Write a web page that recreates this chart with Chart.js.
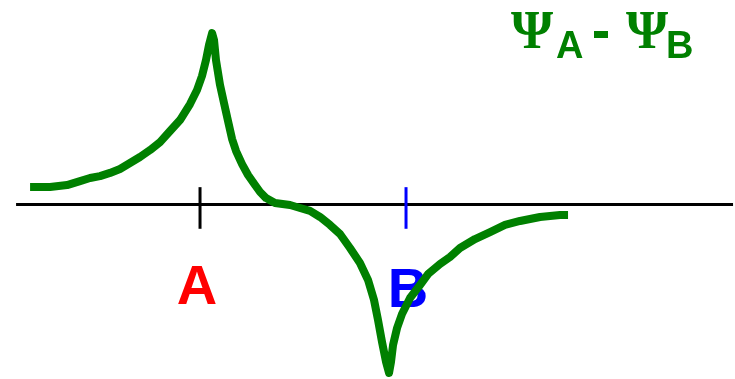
<!DOCTYPE html>
<html>
<head>
<meta charset="utf-8">
<script src="https://cdn.jsdelivr.net/npm/chart.js@4/dist/chart.umd.min.js"></script>
<style>
  html, body { margin: 0; padding: 0; background: #fff; }
  canvas { display: block; }
</style>
</head>
<body>
<canvas id="chart-area" width="735" height="379"></canvas>
<script>
// position along the A-B axis (A at -1, B at +1)
var xPos = [-2.650, -2.456, -2.291, -2.165, -2.068, -1.971, -1.874, -1.777, -1.680, -1.583,
            -1.485, -1.388, -1.291, -1.194, -1.097, -1.029, -0.981, -0.942, -0.913, -0.883,
            -0.864, -0.845, -0.806, -0.767, -0.728, -0.689, -0.650, -0.592, -0.534, -0.466,
            -0.417, -0.359, -0.272, -0.126, -0.029,  0.068,  0.165,  0.262,  0.359,  0.456,
             0.553,  0.631,  0.689,  0.728,  0.767,  0.806,  0.835,  0.854,  0.874,  0.913,
             0.961,  1.039,  1.136,  1.214,  1.330,  1.427,  1.524,  1.670,  1.816,  1.961,
             2.107,  2.301,  2.495,  2.573];

// psiA - psiB
var psiDiff = [0.101, 0.101, 0.112, 0.135, 0.153, 0.164, 0.182, 0.205, 0.239, 0.274,
               0.314, 0.360, 0.424, 0.487, 0.579, 0.660, 0.741, 0.833, 0.919, 0.988,
               0.948, 0.833, 0.689, 0.585, 0.481, 0.378, 0.308, 0.233, 0.170, 0.112,
               0.072, 0.037, 0.009, -0.003, -0.020, -0.037, -0.072, -0.118, -0.170, -0.251,
              -0.337, -0.435, -0.550, -0.666, -0.793, -0.908, -0.971, -0.908, -0.810, -0.712,
              -0.631, -0.539, -0.464, -0.401, -0.343, -0.303, -0.251, -0.199, -0.159, -0.118,
              -0.095, -0.072, -0.061, -0.061];

var nuclei      = ["A", "B"];
var nucleusPos  = [-1, 1];
var nucleusCol  = ["#ff0000", "#0000ff"];
var tickCol     = ["#000000", "#0000ff"];
var axisRange   = [-2.786, 4.175];

var points = [];
for (var i = 0; i < xPos.length; ++i)
    points.push({x: xPos[i], y: psiDiff[i]});

// axis line, nucleus ticks and letters go under the curve
var axisPlugin = {
    id: 'axisPlugin',
    beforeDatasetsDraw: function (chart) {
        var ctx = chart.ctx;
        var xs = chart.scales.x, ys = chart.scales.y;
        var y0 = ys.getPixelForValue(0);
        ctx.save();
        ctx.lineWidth = 3;
        ctx.strokeStyle = "#000";
        ctx.beginPath();
        ctx.moveTo(xs.getPixelForValue(axisRange[0]), y0);
        ctx.lineTo(xs.getPixelForValue(axisRange[1]), y0);
        ctx.stroke();

        for (var k = 0; k < nuclei.length; ++k) {
            var px = xs.getPixelForValue(nucleusPos[k]);
            ctx.strokeStyle = tickCol[k];
            ctx.beginPath();
            ctx.moveTo(px, ys.getPixelForValue(0.1));
            ctx.lineTo(px, ys.getPixelForValue(-0.14));
            ctx.stroke();

            ctx.fillStyle = nucleusCol[k];
            ctx.font = "bold 56px 'Liberation Sans', Arial, sans-serif";
            ctx.textAlign = "center";
            ctx.textBaseline = "alphabetic";
            ctx.fillText(nuclei[k], px + (k == 0 ? -3 : 2), k == 0 ? 304 : 307);
        }
        ctx.restore();
    },
    afterDraw: function (chart) {
        // title: psi_A - psi_B
        var ctx = chart.ctx;
        ctx.save();
        ctx.fillStyle = "#008000";
        ctx.textAlign = "left";
        ctx.textBaseline = "alphabetic";
        ctx.font = "bold 54px 'Liberation Serif', 'DejaVu Serif', serif";
        ctx.fillText("Ψ", 511, 48);
        ctx.fillText("Ψ", 626, 48);
        ctx.font = "bold 38px 'Liberation Sans', Arial, sans-serif";
        ctx.fillText("A", 556, 58);
        ctx.fillText("B", 666, 58);
        ctx.fillRect(594, 31, 14, 7);
        ctx.restore();
    }
};

var config = {
    type: 'line',
    data: {
        datasets: [{
            data: points,
            borderColor: "#008000",
            borderWidth: 8,
            pointRadius: 0,
            tension: 0,
            borderJoinStyle: 'round',
            borderCapStyle: 'butt',
            fill: false
        }]
    },
    options: {
        responsive: false,
        animation: false,
        events: [],
        layout: { padding: 0, autoPadding: false },
        plugins: {
            legend: { display: false },
            tooltip: { enabled: false }
        },
        scales: {
            x: { type: 'linear', display: false, min: -2.942, max: 4.194 },
            y: { type: 'linear', display: false, min: -1.006, max: 1.179 }
        }
    },
    plugins: [axisPlugin]
};

var ctx = document.getElementById('chart-area').getContext('2d');
window.myLine = new Chart(ctx, config);
</script>
</body>
</html>
